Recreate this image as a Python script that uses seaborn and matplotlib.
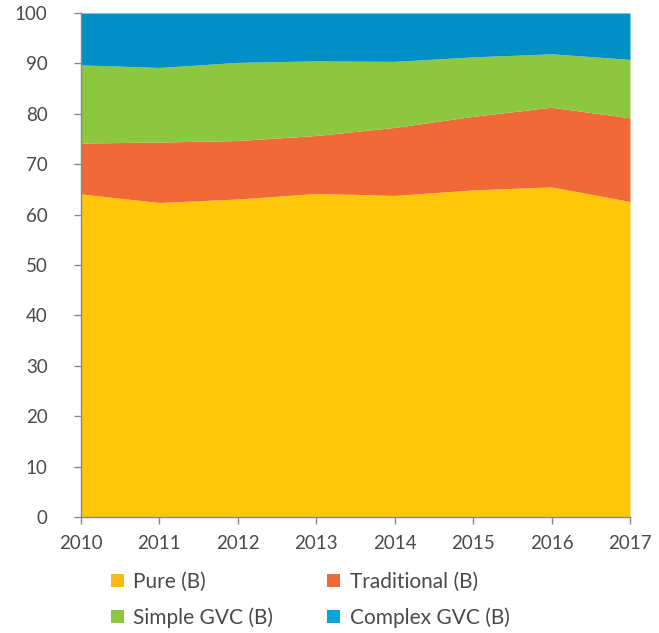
import matplotlib
matplotlib.use("Agg")
import matplotlib.pyplot as plt
import seaborn as sns
from matplotlib.patches import Patch

years = [2010, 2011, 2012, 2013, 2014, 2015, 2016, 2017]
pure = [64.1, 62.4, 63.1, 64.2, 63.8, 64.9, 65.5, 62.6]
traditional = [10.1, 12.0, 11.6, 11.5, 13.5, 14.6, 15.8, 16.6]
simple_gvc = [15.5, 14.8, 15.5, 14.8, 13.1, 11.8, 10.6, 11.6]
complex_gvc = [round(100 - p - t - s, 1) for p, t, s in zip(pure, traditional, simple_gvc)]

labels = ["Pure (B)", "Traditional (B)", "Simple GVC (B)", "Complex GVC (B)"]
fill_colors = ["#FFC60A", "#EF6A37", "#8DC63F", "#0090C5"]
legend_colors = ["#FDB913", "#EF6A37", "#8DC63F", "#00A5DB"]

sns.set_theme(style="ticks")
plt.rcParams["font.family"] = ["Lato", "DejaVu Sans"]

fig = plt.figure(figsize=(6.59, 6.33), dpi=100)
ax = fig.add_axes([81 / 659, 1 - 517 / 633, 549 / 659, 504 / 633])

ax.stackplot(years, pure, traditional, simple_gvc, complex_gvc,
             colors=fill_colors, linewidth=0)

ax.set_xlim(2010, 2017)
ax.set_ylim(0, 100)
ax.set_xticks(years)
ax.set_yticks(range(0, 101, 10))
ax.tick_params(axis="both", colors="#888888", labelcolor="#4a4a4a",
               labelsize=13.5, length=5, width=1)
ax.tick_params(axis="x", pad=8)
ax.tick_params(axis="y", pad=19)
for side in ("top", "right"):
    ax.spines[side].set_visible(False)
for side in ("left", "bottom"):
    ax.spines[side].set_color("#888888")
    ax.spines[side].set_linewidth(1)

# two-column legend laid out row by row: Pure / Traditional, Simple / Complex
order = [0, 2, 1, 3]
handles = [Patch(facecolor=legend_colors[i], edgecolor="none") for i in order]
fig.legend(handles, [labels[i] for i in order], loc="upper left",
           bbox_to_anchor=(92 / 659, 1 - 553 / 633),
           ncol=2, frameon=False, fontsize=15, labelcolor="#4a4a4a",
           handlelength=0.62, handleheight=0.62, handletextpad=0.45,
           columnspacing=2.6, labelspacing=0.75)

fig.savefig("out.png", dpi=100, facecolor="white")
